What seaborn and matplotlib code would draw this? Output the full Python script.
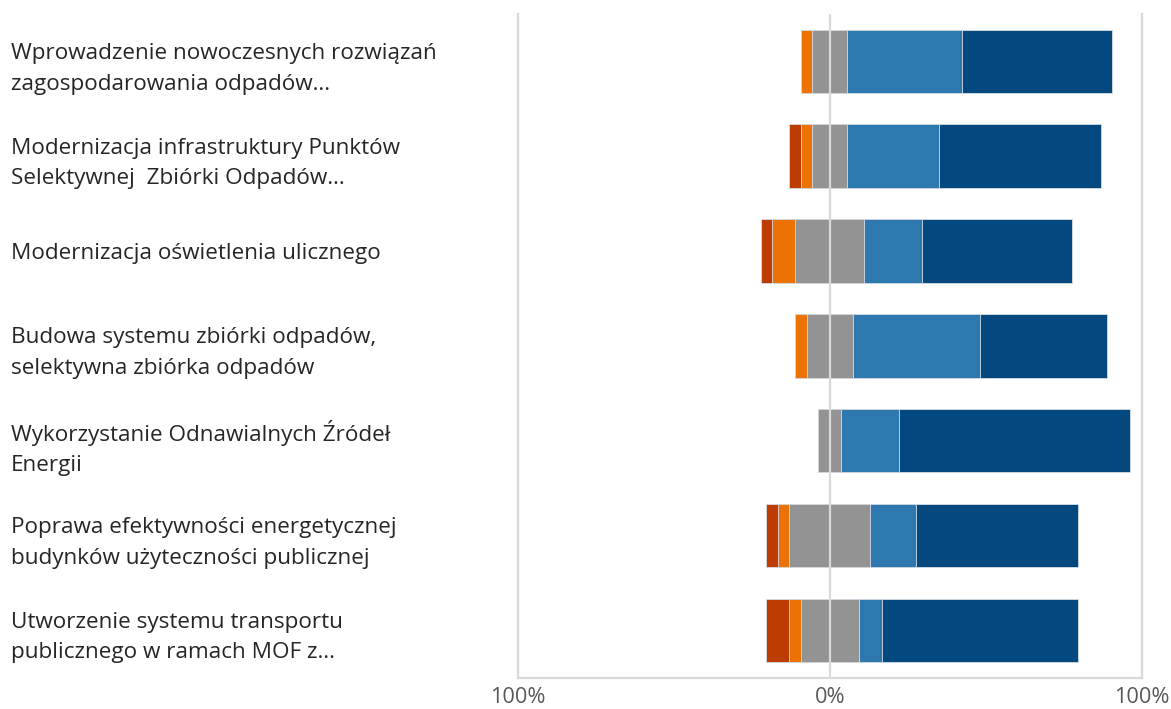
import numpy as np
import pandas as pd
import matplotlib
matplotlib.use("Agg")
import matplotlib.pyplot as plt
import seaborn as sns

categories = [
    "Wprowadzenie nowoczesnych rozwiązań\nzagospodarowania odpadów…",
    "Modernizacja infrastruktury Punktów\nSelektywnej  Zbiórki Odpadów…",
    "Modernizacja oświetlenia ulicznego",
    "Budowa systemu zbiórki odpadów,\nselektywna zbiórka odpadów",
    "Wykorzystanie Odnawialnych Źródeł\nEnergii",
    "Poprawa efektywności energetycznej\nbudynków użyteczności publicznej",
    "Utworzenie systemu transportu\npublicznego w ramach MOF z…",
]

# shares of answers (%) per category, from most negative to most positive
strongly_neg = [0.0, 3.7, 3.7, 0.0, 0.0, 3.7, 7.4]
neg = [3.7, 3.7, 7.4, 3.7, 0.0, 3.7, 3.7]
neutral = [11.1, 11.1, 22.2, 14.8, 7.4, 25.9, 18.5]
pos = [37.0, 29.6, 18.5, 40.7, 18.5, 14.8, 7.4]
strongly_pos = [48.1, 51.9, 48.1, 40.7, 74.1, 51.9, 63.0]

tick_values = [-100, 0, 100]
tick_labels = ["100%", "0%", "100%"]

colors = {
    "strongly_neg": "#BC3C02",
    "neg": "#EC7206",
    "neutral": "#939393",
    "pos": "#2C78AF",
    "strongly_pos": "#03497F",
}

sns.set_theme(style="white")
plt.rcParams["font.family"] = ["Open Sans", "DejaVu Sans"]

df = pd.DataFrame({
    "category": categories,
    "strongly_neg": strongly_neg,
    "neg": neg,
    "neutral": neutral,
    "pos": pos,
    "strongly_pos": strongly_pos,
})
half = df["neutral"] / 2
# cumulative extents measured from the zero line; the neutral share is split evenly
layers = [
    ("strongly_pos", half + df["pos"] + df["strongly_pos"]),
    ("pos", half + df["pos"]),
    ("strongly_neg", -(half + df["neg"] + df["strongly_neg"])),
    ("neg", -(half + df["neg"])),
    ("neutral", half),
    ("neutral", -half),
]

fig = plt.figure(figsize=(11.71, 7.09), dpi=100)
ax = fig.add_axes([518 / 1171, 1 - 677.7 / 709, (1141.5 - 518) / 1171, (677.7 - 14) / 709])

for key, ext in layers:
    sns.barplot(
        x=ext.values, y=df["category"], orient="h", ax=ax,
        color=colors[key], width=0.67, edgecolor="#d8dde3", linewidth=0.6,
        saturation=1,
    )

ax.set_xlim(-100, 100)
ax.set_ylim(6.5, -0.5)
ax.axvline(0, color="#d9d9d9", lw=1.6, zorder=5)

ax.set_xticks(tick_values)
ax.set_xticklabels(tick_labels)
ax.tick_params(axis="x", length=0, pad=7, labelsize=15.7, labelcolor="#595959")
ax.tick_params(axis="y", length=0, pad=365, labelsize=16.2, labelcolor="#262626")
for lab in ax.get_yticklabels():
    lab.set_ha("left")
    lab.set_linespacing(1.6)
ax.set_xlabel("")
ax.set_ylabel("")

for side in ["left", "right", "bottom"]:
    ax.spines[side].set_color("#d9d9d9")
    ax.spines[side].set_linewidth(1.6)
ax.spines["top"].set_visible(False)

fig.savefig("out.png", dpi=100)
